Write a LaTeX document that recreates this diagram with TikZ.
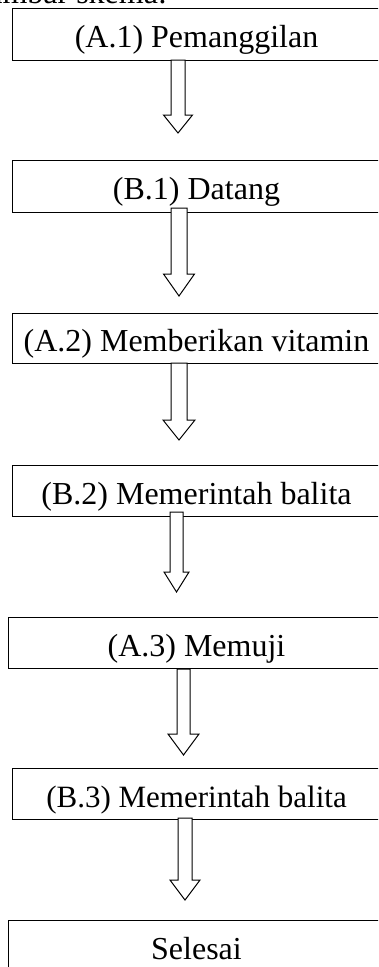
\documentclass[tikz,border=0pt]{standalone}
\usepackage{fontspec}
\setmainfont{Liberation Serif}
\tikzset{
  stepbox/.style={draw=black, line width=1pt, fill=white, rectangle, inner sep=0pt,
    minimum height=52pt, text height=26pt, text depth=0pt, anchor=north west,
    font=\fontsize{32}{38}\selectfont},
  blockarr/.style={draw=black, line width=1pt, fill=white, line join=miter}
}
% \mkarrow{cx}{top}{shaftend}{tip}{halfshaft}{halfhead}
\newcommand{\mkarrow}[6]{%
  \draw[blockarr] ({#1-#5},#2) -- ({#1-#5},#3) -- ({#1-#6},#3) -- (#1,#4)
    -- ({#1+#6},#3) -- ({#1+#5},#3) -- ({#1+#5},#2) -- cycle;}
\begin{document}
\begin{tikzpicture}[x=1pt,y=-1pt]
\useasboundingbox (0,0) rectangle (378,967);
\clip (0,0) rectangle (378,967);
\fill[white] (0,0) rectangle (378,967);

\node[anchor=base west, inner sep=0pt, font=\fontsize{32}{38}\selectfont] (cap) at (-35,3.5) {Gambar skema:};

\node[stepbox, minimum width=368pt] (b1) at (12,8) {(A.1) Pemanggilan};
\node[stepbox, minimum width=368pt] (b2) at (12,160) {(B.1) Datang};
\node[stepbox, minimum width=368pt, minimum height=50pt, text height=25pt] (b3) at (12,313) {(A.2) Memberikan vitamin};
\node[stepbox, minimum width=368pt, minimum height=51pt] (b4) at (12,465) {(B.2) Memerintah balita};
\node[stepbox, minimum width=376pt, minimum height=51pt] (b5) at (8,617) {(A.3) Memuji};
\node[stepbox, minimum width=368pt, minimum height=51pt, font=\fontsize{31}{37}\selectfont] (b6) at (12,768) {(B.3) Memerintah balita};
\node[stepbox, minimum width=376pt] (b7) at (8,920) {Selesai};

\mkarrow{178}{60}{115}{133}{7}{14.5}
\mkarrow{179}{208}{274}{296}{8}{15.5}
\mkarrow{179}{363}{420}{440}{8}{16}
\mkarrow{176.5}{512}{572}{592}{6.5}{12.5}
\mkarrow{183.5}{669}{734}{755}{6.5}{15.5}
\mkarrow{185}{818}{880}{900}{7}{15}
\end{tikzpicture}
\end{document}
